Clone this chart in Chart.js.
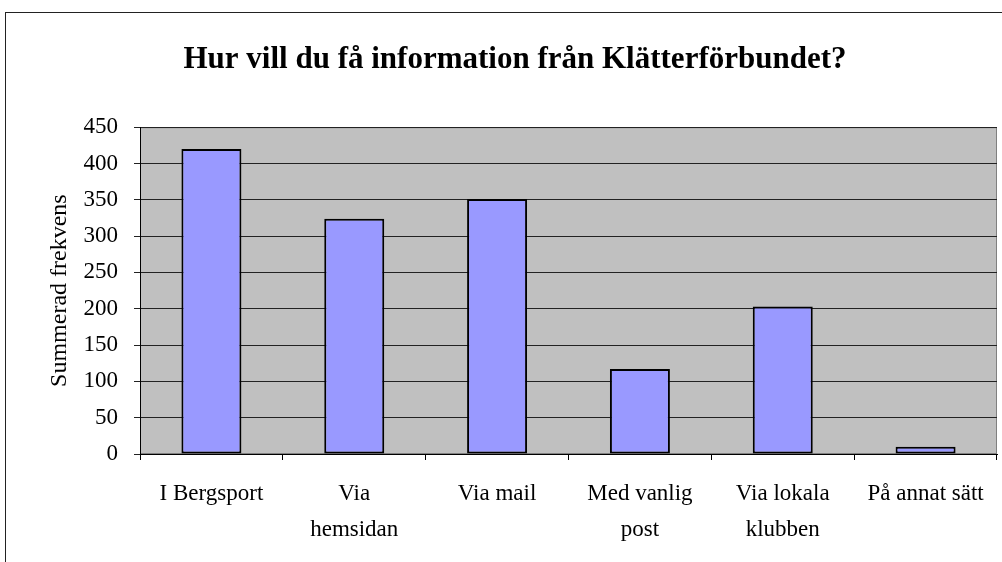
<!DOCTYPE html>
<html>
<head>
<meta charset="utf-8">
<script src="https://cdn.jsdelivr.net/npm/chart.js@4"></script>
<style>
    html, body { margin: 0; padding: 0; background: #fff; overflow: hidden; }
    #frame { position: absolute; left: 5px; top: 12px; width: 1200px; height: 800px; border: 1px solid #222; }
    #chart { position: absolute; left: 0; top: 0; }
</style>
</head>
<body>
<div id="frame"></div>
<canvas id="chart" width="1030" height="562"></canvas>
<script>
// Data
const categories = ['I Bergsport', ['Via', 'hemsidan'], 'Via mail', ['Med vanlig', 'post'], ['Via lokala', 'klubben'], 'På annat sätt'];
const frequencies = [420, 324, 351, 117, 203, 10];
const yTicks = { min: 0, max: 450, step: 50 };

const serif = "'Liberation Serif', 'DejaVu Serif', serif";

// gray plot area with a thin border, like the old Excel chart
const plotBackground = {
    id: 'plotBackground',
    beforeDraw(chart) {
        const { ctx, chartArea: a } = chart;
        ctx.save();
        ctx.fillStyle = '#C0C0C0';
        ctx.fillRect(a.left, a.top, a.right - a.left, a.bottom - a.top);
        ctx.strokeStyle = '#808080';
        ctx.lineWidth = 1;
        ctx.strokeRect(a.left + 0.5, a.top + 0.5, a.right - a.left - 1, a.bottom - a.top - 1);
        ctx.restore();
    }
};

new Chart(document.getElementById('chart').getContext('2d'), {
    type: 'bar',
    data: {
        labels: categories,
        datasets: [{
            label: 'Summerad frekvens',
            data: frequencies,
            backgroundColor: '#9999FF',
            borderColor: '#000',
            borderWidth: 2,
            borderSkipped: false,
            barPercentage: 0.42,
            categoryPercentage: 1
        }]
    },
    options: {
        responsive: false,
        animation: false,
        layout: { padding: { left: 33, right: 33, top: 0, bottom: 0 } },
        plugins: {
            legend: { display: false },
            tooltip: { enabled: false },
            title: {
                display: true,
                text: 'Hur vill du få information från Klätterförbundet?',
                color: '#000',
                font: { family: serif, size: 31, weight: 'bold' },
                padding: { top: 41, bottom: 49 }
            }
        },
        scales: {
            y: {
                min: yTicks.min,
                max: yTicks.max,
                afterFit: (scale) => { scale.width = 107; },
                ticks: {
                    stepSize: yTicks.step,
                    color: '#000',
                    padding: 16,
                    font: { family: serif, size: 23 }
                },
                grid: { color: '#222', lineWidth: 1, tickLength: 6 },
                border: { display: true, color: '#000', width: 1 },
                title: {
                    display: true,
                    text: 'Summerad frekvens',
                    color: '#000',
                    font: { family: serif, size: 24 },
                    padding: { top: 12, bottom: 0 }
                }
            },
            x: {
                afterFit: (scale) => { scale.height = 108; },
                ticks: {
                    color: '#000',
                    padding: 16,
                    maxRotation: 0,
                    autoSkip: false,
                    font: { family: serif, size: 23, lineHeight: 1.55 }
                },
                grid: { drawOnChartArea: false, color: '#000', tickLength: 6 },
                border: { display: true, color: '#000', width: 1 }
            }
        }
    },
    plugins: [plotBackground]
});
</script>
</body>
</html>
